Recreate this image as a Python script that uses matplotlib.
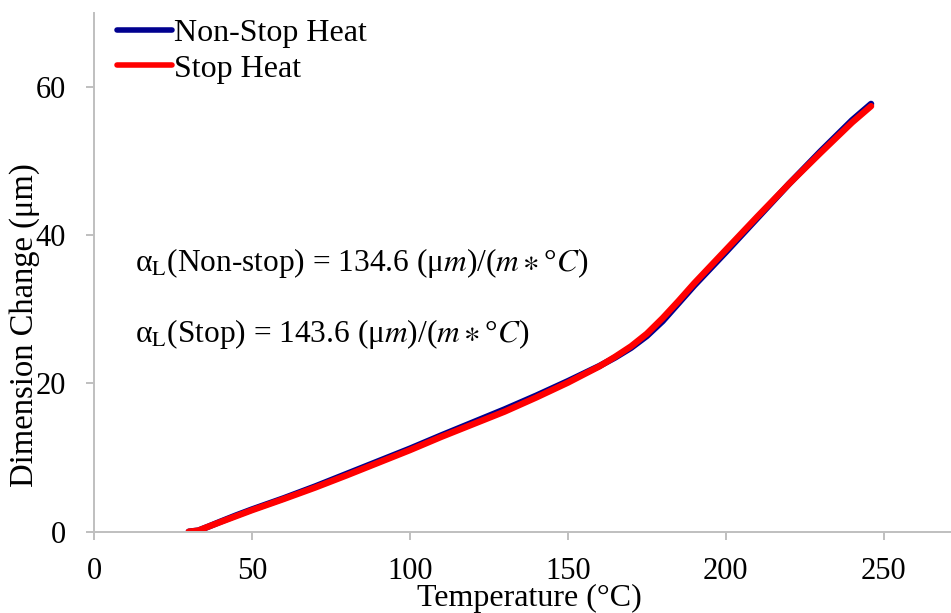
import matplotlib
matplotlib.use("Agg")
import matplotlib.pyplot as plt

plt.rcParams['font.family'] = ['Liberation Serif', 'DejaVu Serif']
plt.rcParams['mathtext.fontset'] = 'stix'

# Temperature (°C) and dimension change (µm) for both heating modes
temperature = [30, 33, 36, 40, 45, 50, 60, 70, 80, 90, 100, 110, 120, 130, 140, 150,
               160, 165, 170, 175, 180, 185, 190, 200, 210, 220, 230, 240, 246]
non_stop_heat = [0.0, 0.15, 0.65, 1.35, 2.2, 3.0, 4.5, 6.1, 7.8, 9.5, 11.2, 13.0, 14.75,
                 16.5, 18.35, 20.3, 22.35, 23.5, 24.8, 26.4, 28.4, 30.8, 33.2, 37.7,
                 42.3, 46.9, 51.3, 55.5, 57.7]
stop_heat = [0.0, 0.15, 0.65, 1.3, 2.1, 2.9, 4.4, 5.95, 7.6, 9.3, 11.0, 12.8, 14.5,
             16.2, 18.1, 20.1, 22.3, 23.6, 25.0, 26.7, 28.8, 31.1, 33.5, 38.0, 42.5,
             46.9, 51.1, 55.2, 57.4]

x_ticks = [0, 50, 100, 150, 200, 250]
y_ticks = [0, 20, 40, 60]

annotations = [
    r"α$_\mathrm{L}$(Non-stop) = 134.6 (μ$m$)/($m\ast$°$C$)",
    r"α$_\mathrm{L}$(Stop) = 143.6 (μ$m$)/($m\ast$°$C$)",
]

W, H = 951, 613
fig = plt.figure(figsize=(W / 100, H / 100), dpi=100)
ax = fig.add_axes([94 / W, 1 - 531.7 / H, 1 - 94 / W, (531.7 - 12.7) / H])

ax.plot(temperature, non_stop_heat, color='#00008F', lw=4.6,
        solid_capstyle='round', label='Non-Stop Heat')
ax.plot(temperature, stop_heat, color='#FF0000', lw=4.6,
        solid_capstyle='round', label='Stop Heat')

ax.set_xlim(0, 271.3)
ax.set_ylim(0, 70)
ax.set_xticks(x_ticks)
ax.set_yticks(y_ticks)

for side in ('top', 'right'):
    ax.spines[side].set_visible(False)
for side in ('left', 'bottom'):
    ax.spines[side].set_color('#BFBFBF')
    ax.spines[side].set_linewidth(1.4)
ax.tick_params(axis='both', direction='out', color='#BFBFBF', width=1.4,
               length=6, labelsize=22)
ax.tick_params(axis='x', pad=12)
ax.tick_params(axis='y', pad=14)

fig.text(529 / W, 1 - 598 / H, 'Temperature (°C)', ha='center', va='center',
         fontsize=23)
fig.text(25 / W, 1 - 325 / H, 'Dimension Change (μm)', ha='center', va='center',
         rotation=90, fontsize=23.5)

ax.text(13, 36.3, annotations[0], ha='left', va='center', fontsize=22.6)
ax.text(13, 26.7, annotations[1], ha='left', va='center', fontsize=22.6)

leg = ax.legend(loc='upper left', bbox_to_anchor=(117 / W, 1 - 18.5 / H),
                bbox_transform=fig.transFigure, frameon=False, fontsize=23,
                handlelength=1.72, handletextpad=0.08, labelspacing=0.2,
                borderpad=0.0, borderaxespad=0.0)
for line in leg.get_lines():
    line.set_linewidth(4)

fig.savefig('out.png', dpi=100)
